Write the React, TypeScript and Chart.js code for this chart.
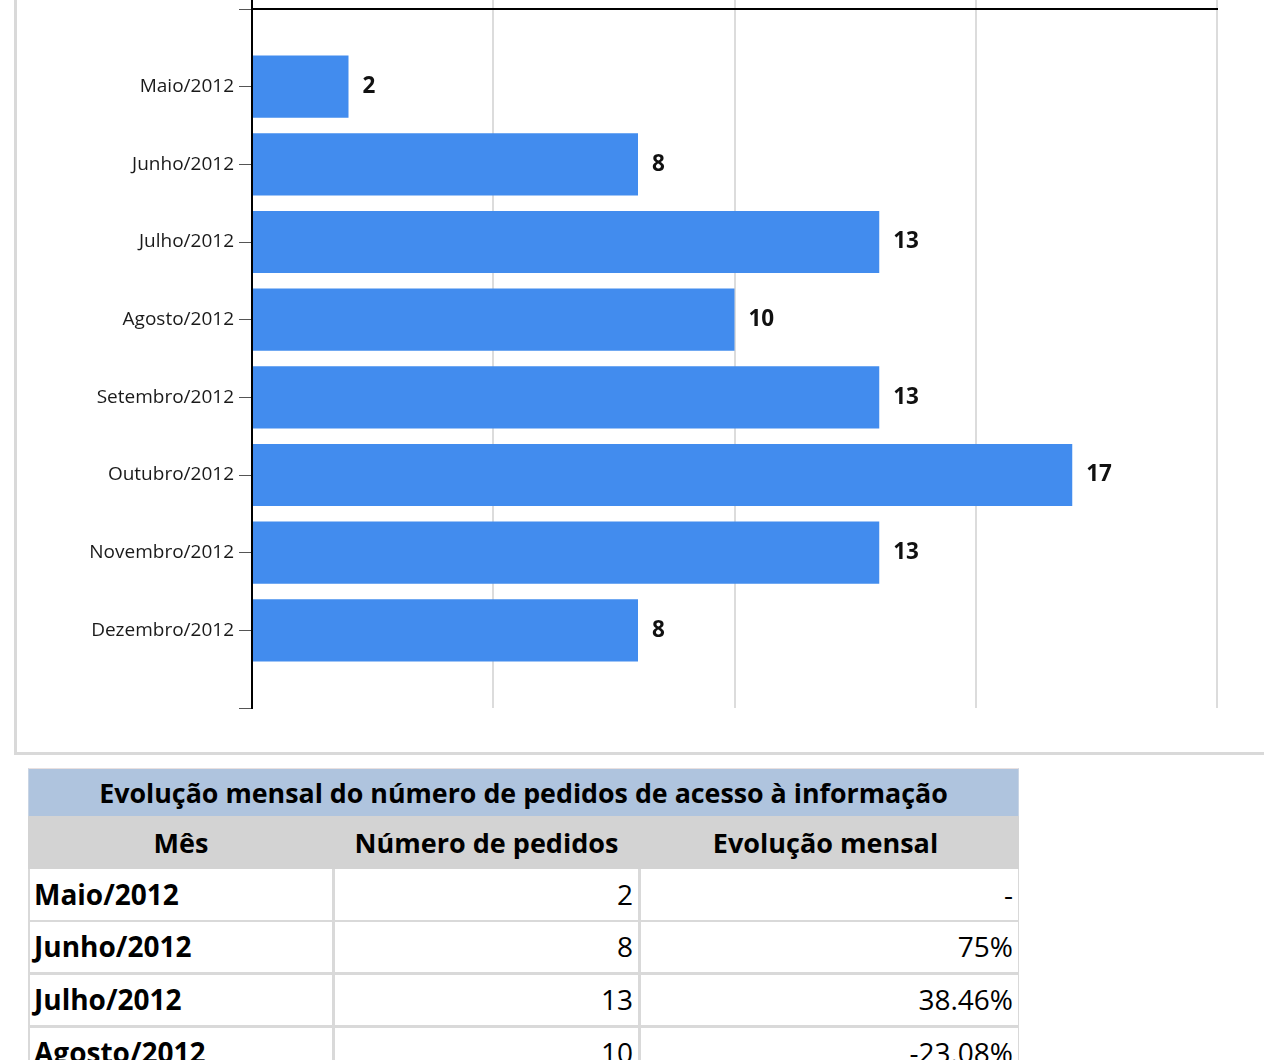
import React, { useEffect, useRef } from "react";
import { Chart, registerables } from "chart.js";

Chart.register(...registerables);

// ---- data ----
const categories = [
  "Maio/2012",
  "Junho/2012",
  "Julho/2012",
  "Agosto/2012",
  "Setembro/2012",
  "Outubro/2012",
  "Novembro/2012",
  "Dezembro/2012",
];
const pedidos = [2, 8, 13, 10, 13, 17, 13, 8];
const xTicks = [0, 5, 10, 15, 20];

const tableTitle = "Evolução mensal do número de pedidos de acesso à informação";
const tableHeaders = ["Mês", "Número de pedidos", "Evolução mensal"];
const tableMonths = ["Maio/2012", "Junho/2012", "Julho/2012", "Agosto/2012"];
const tablePedidos = ["2", "8", "13", "10"];
const tableEvolucao = ["-", "75%", "38.46%", "-23.08%"];

const FONT = "'Open Sans', 'DejaVu Sans', sans-serif";

const valueLabels = {
  id: "valueLabels",
  afterDatasetsDraw(chart: any) {
    const ctx = chart.ctx;
    const meta = chart.getDatasetMeta(0);
    ctx.save();
    ctx.font = "bold 22.5px " + FONT;
    ctx.fillStyle = "#111";
    ctx.textAlign = "left";
    ctx.textBaseline = "middle";
    meta.data.forEach((bar: any, i: number) => {
      const v = chart.data.datasets[0].data[i];
      if (v === null || v === undefined) return;
      ctx.fillText(String(v), bar.x + 14, bar.y);
    });
    ctx.restore();
  },
};

function BarChart() {
  const ref = useRef<HTMLCanvasElement | null>(null);
  useEffect(() => {
    if (!ref.current) return;
    const labels = ["", ...categories, ""];
    const data = [null, ...pedidos, null];
    const chart = new Chart(ref.current, {
      type: "bar",
      data: {
        labels,
        datasets: [
          {
            data,
            backgroundColor: "#428cee",
            borderWidth: 0,
            barPercentage: 0.8,
            categoryPercentage: 1.0,
          },
        ],
      },
      options: {
        indexAxis: "y",
        responsive: false,
        animation: false,
        devicePixelRatio: 1,
        layout: { padding: { left: 0, right: 47, top: 0, bottom: 44 } },
        plugins: {
          legend: { display: false },
          tooltip: { enabled: false },
        },
        scales: {
          x: {
            type: "linear",
            position: "top",
            min: xTicks[0],
            max: xTicks[xTicks.length - 1],
            afterBuildTicks: (scale: any) => {
              scale.ticks = xTicks.map((v) => ({ value: v }));
            },
            ticks: { display: false },
            grid: {
              color: (c: any) => (c.tick && c.tick.value === 0 ? "#000" : "#dcdcdc"),
              lineWidth: 2,
              drawTicks: true,
              tickLength: 9,
            },
            border: { display: true, color: "#000", width: 2 },
            afterFit: (scale: any) => {
              scale.height = 9;
              scale.paddingLeft = 0;
              scale.paddingRight = 0;
            },
          },
          y: {
            type: "category",
            offset: false,
            ticks: {
              font: { family: FONT, size: 19 },
              color: "#1a1a1a",
              padding: 5,
              autoSkip: false,
            },
            grid: {
              offset: false,
              drawOnChartArea: false,
              drawTicks: true,
              tickLength: 13,
              color: "#555",
              lineWidth: 1,
            },
            border: { display: true, color: "#000", width: 2 },
            afterFit: (scale: any) => {
              scale.width = 235;
              scale.paddingTop = 0;
              scale.paddingBottom = 0;
            },
          },
        },
      },
      plugins: [valueLabels],
    } as any);
    return () => chart.destroy();
  }, []);
  return (
    <canvas
      ref={ref}
      width={1247}
      height={752}
      style={{ position: "absolute", left: 17, top: 0, width: 1247, height: 752 }}
    />
  );
}

const BORDER = "#d9d9d9";

function DataTable() {
  const left = 28;
  const width = 991;
  const rowTop = 869;
  const rowH = 50;
  const sep = 3;
  const cols = [
    { x: 30, w: 302 },
    { x: 335, w: 303 },
    { x: 641, w: 377 },
  ];
  const headerShift = [0, 0, -4];
  const rows = tableMonths.map((m, i) => [m, tablePedidos[i], tableEvolucao[i]]);
  return (
    <div style={{ fontFamily: FONT, color: "#000" }}>
      {/* title */}
      <div
        style={{
          position: "absolute",
          left,
          top: 768,
          width,
          height: 48,
          background: "#afc4de",
          boxSizing: "border-box",
          borderLeft: "1px solid #c8d4e4",
          borderRight: "1px solid #c8d4e4",
          borderTop: "1px solid #e8e0e0",
          display: "flex",
          alignItems: "center",
          justifyContent: "center",
          fontWeight: 700,
          fontSize: 26.8,
          whiteSpace: "nowrap",
        }}
      >
        {tableTitle}
      </div>
      {/* header */}
      <div
        style={{
          position: "absolute",
          left,
          top: 816,
          width,
          height: 53,
          background: "#d3d3d3",
        }}
      />
      {tableHeaders.map((h, j) => (
        <div
          key={h}
          style={{
            position: "absolute",
            left: cols[j].x + headerShift[j],
            top: 816,
            width: cols[j].w,
            height: 53,
            display: "flex",
            alignItems: "center",
            justifyContent: "center",
            fontWeight: 700,
            fontSize: 27,
            whiteSpace: "nowrap",
          }}
        >
          {h}
        </div>
      ))}
      {/* body background = border colour, cells on top */}
      <div
        style={{
          position: "absolute",
          left,
          top: rowTop,
          width,
          height: rows.length * (rowH + sep) + 4,
          background: BORDER,
        }}
      />
      {rows.map((r, i) =>
        r.map((t, j) => (
          <div
            key={i + "-" + j}
            style={{
              position: "absolute",
              left: cols[j].x,
              top: rowTop + i * (rowH + sep),
              width: cols[j].w,
              height: i === 0 ? rowH + 1 : rowH,
              background: "#fff",
              boxSizing: "border-box",
              display: "flex",
              alignItems: "center",
              justifyContent: j === 0 ? "flex-start" : "flex-end",
              paddingLeft: j === 0 ? 4 : 0,
              paddingRight: j === 0 ? 0 : 5,
              paddingBottom: 2,
              fontWeight: j === 0 ? 700 : 400,
              fontSize: 28,
              whiteSpace: "nowrap",
            }}
          >
            {t}
          </div>
        ))
      )}
    </div>
  );
}

export default function App() {
  return (
    <div
      style={{
        position: "fixed",
        left: 0,
        top: 0,
        width: 1264,
        height: 1060,
        overflow: "hidden",
        background: "#fff",
      }}
    >
      <div
        style={{
          position: "absolute",
          left: 14,
          top: -10,
          width: 1290,
          height: 765,
          boxSizing: "border-box",
          border: "3px solid " + BORDER,
        }}
      />
      <BarChart />
      <DataTable />
    </div>
  );
}
